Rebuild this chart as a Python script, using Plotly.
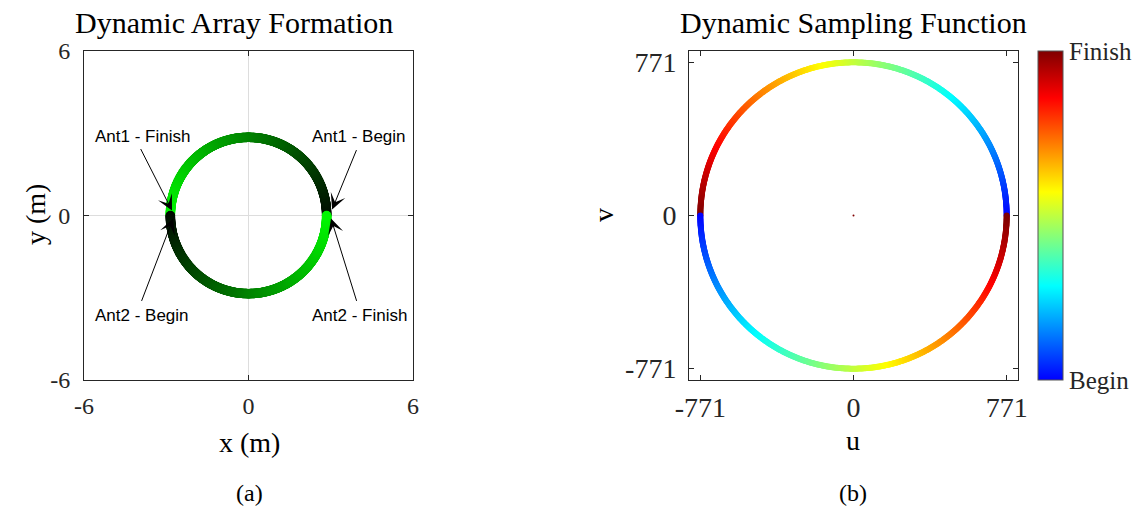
import numpy as np
import plotly.graph_objects as go

# Two antennas riding a circular track, half a turn each
RING_RADIUS_M = 2.85      # track radius in metres
UV_EXTENT = 771           # longest baseline, in wavelengths
N_STEPS = 500             # samples along each half-turn

# Axis settings
XY_TICKS = [-6, 0, 6]
XY_TICK_TEXT = ["-6", "0", "6"]
XY_RANGE = [-6, 6]
UV_TICKS = [-771, 0, 771]
UV_TICK_TEXT = ["-771", "0", "771"]
UV_RANGE = [-828, 828]

# Arrow callouts: label, label centre (x, y), arrow tail (x, y), arrow tip (x, y)
CALLOUT_LABELS = ["Ant1 - Finish", "Ant1 - Begin", "Ant2 - Begin", "Ant2 - Finish"]
CALLOUT_TEXT_XY = [(-3.87, 2.88), (4.03, 2.88), (-3.87, -3.65), (4.05, -3.65)]
CALLOUT_TAIL_XY = [(-3.96, 2.48), (3.96, 2.44), (-3.92, -3.17), (3.96, -3.17)]
CALLOUT_TIP_XY = [(-2.79, 0.18), (3.05, 0.22), (-2.75, -0.11), (3.01, -0.11)]

SERIF = "Liberation Serif"
SANS = "Liberation Sans"
INK = "#262626"

W, H = 1143, 512

def px_x(p):
    return p / W

def px_y(p):
    return 1 - p / H

# progress along the maneuver, 0 = begin, 1 = finish
progress = np.linspace(0.0, 1.0, N_STEPS)
angle = np.pi * progress

ant1_x = RING_RADIUS_M * np.cos(angle)
ant1_y = RING_RADIUS_M * np.sin(angle)
ant2_x = RING_RADIUS_M * np.cos(angle + np.pi)
ant2_y = RING_RADIUS_M * np.sin(angle + np.pi)

# baseline (ant1 - ant2) and its conjugate in the uv plane
u = UV_EXTENT * np.cos(angle)
v = UV_EXTENT * np.sin(angle)

green_scale = [[0, "rgb(0,10,0)"], [1, "rgb(0,245,0)"]]
jet_scale = [
    [0.0, "rgb(0,0,255)"],
    [0.2857, "rgb(0,255,255)"],
    [0.5714, "rgb(255,255,0)"],
    [0.8571, "rgb(255,0,0)"],
    [1.0, "rgb(128,0,0)"],
]

fig = go.Figure()

for xs, ys in [(ant1_x, ant1_y), (ant2_x, ant2_y)]:
    fig.add_trace(go.Scatter(
        x=xs, y=ys, mode="markers", xaxis="x", yaxis="y",
        marker=dict(size=9.5, color=progress, colorscale=green_scale,
                    cmin=0, cmax=1, line=dict(width=0)),
        hoverinfo="skip", showlegend=False,
    ))

for us, vs in [(u, v), (-u, -v)]:
    fig.add_trace(go.Scatter(
        x=us, y=vs, mode="markers", xaxis="x2", yaxis="y2",
        marker=dict(size=6, color=progress, colorscale=jet_scale,
                    cmin=0, cmax=1, line=dict(width=0)),
        hoverinfo="skip", showlegend=False,
    ))

# zero-spacing sample and the colour bar
fig.add_trace(go.Scatter(
    x=[0], y=[0], mode="markers", xaxis="x2", yaxis="y2",
    marker=dict(size=2, color=[1], colorscale=jet_scale, cmin=0, cmax=1,
                showscale=True,
                colorbar=dict(
                    x=px_x(1038), xanchor="left", xpad=0, ypad=0,
                    y=px_y(215.5), yanchor="middle",
                    len=329, lenmode="pixels",
                    thickness=25, thicknessmode="pixels",
                    outlinecolor="#555555", outlinewidth=1,
                    tickvals=[0, 1], ticktext=["Begin", "Finish"],
                    ticks="",
                    tickfont=dict(family=SERIF, size=25, color=INK),
                )),
    hoverinfo="skip", showlegend=False,
))

def axis_style(size):
    return dict(
        showline=True, linecolor=INK, linewidth=1, mirror="ticks",
        ticks="inside", ticklen=5, tickcolor=INK, zeroline=False,
        tickfont=dict(family=SERIF, size=size, color=INK),
    )

fig.update_layout(
    width=W, height=H,
    margin=dict(l=0, r=0, t=0, b=0, autoexpand=False),
    paper_bgcolor="white", plot_bgcolor="white",
    xaxis=dict(domain=[px_x(84), px_x(413)], range=XY_RANGE,
               tickvals=XY_TICKS, ticktext=XY_TICK_TEXT, ticklabelstandoff=4,
               showgrid=True, gridcolor="#dddddd", anchor="y", **axis_style(24)),
    yaxis=dict(domain=[px_y(380), px_y(51)], range=XY_RANGE,
               tickvals=XY_TICKS, ticktext=XY_TICK_TEXT, ticklabelstandoff=8,
               showgrid=True, gridcolor="#dddddd", anchor="x", **axis_style(24)),
    xaxis2=dict(domain=[px_x(689), px_x(1018)], range=UV_RANGE,
                tickvals=UV_TICKS, ticktext=UV_TICK_TEXT, ticklabelstandoff=2,
                showgrid=False, anchor="y2", **axis_style(28)),
    yaxis2=dict(domain=[px_y(380), px_y(51)], range=UV_RANGE,
                tickvals=UV_TICKS, ticktext=UV_TICK_TEXT, ticklabelstandoff=6,
                showgrid=False, anchor="x2", **axis_style(28)),
)

annotations = []

def paper_text(text, x, y, size, angle=0):
    annotations.append(dict(
        text=text, x=px_x(x), y=px_y(y), xref="paper", yref="paper",
        showarrow=False, xanchor="center", yanchor="middle", textangle=angle,
        font=dict(family=SERIF, size=size, color="black"),
    ))

paper_text("Dynamic Array Formation", 234, 22, 30)
paper_text("Dynamic Sampling Function", 853, 22, 30)
paper_text("x (m)", 249, 442, 28)
paper_text("y (m)", 35, 215, 28, angle=-90)
paper_text("u", 853, 440, 28)
paper_text("v", 603, 215, 28, angle=-90)
paper_text("(a)", 249, 493, 24)
paper_text("(b)", 853, 493, 24)

for label, (tx, ty), (ax, ay), (hx, hy) in zip(
        CALLOUT_LABELS, CALLOUT_TEXT_XY, CALLOUT_TAIL_XY, CALLOUT_TIP_XY):
    annotations.append(dict(
        x=hx, y=hy, ax=ax, ay=ay, xref="x", yref="y", axref="x", ayref="y",
        text="", showarrow=True, arrowhead=3, arrowsize=2.6, arrowwidth=1,
        arrowcolor="black", standoff=0, startstandoff=0,
    ))
    annotations.append(dict(
        x=tx, y=ty, xref="x", yref="y", text=label, showarrow=False,
        xanchor="center", yanchor="middle",
        font=dict(family=SANS, size=17, color="black"),
    ))

fig.update_layout(annotations=annotations)

fig.write_html("out.html")
